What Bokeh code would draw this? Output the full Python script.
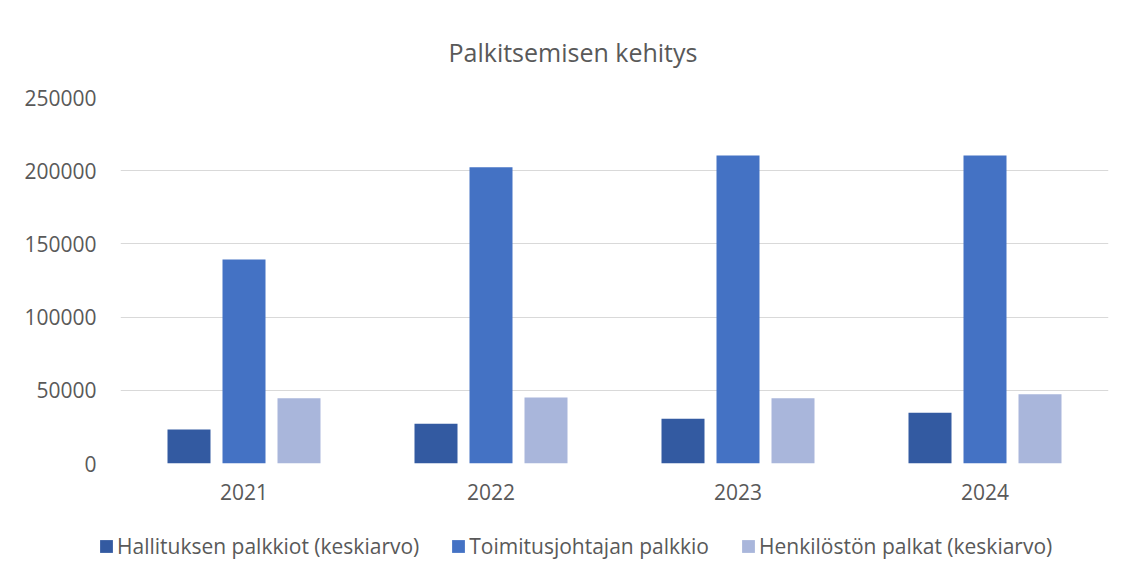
from bokeh.plotting import figure
from bokeh.layouts import column, row
from bokeh.models import (ColumnDataSource, FactorRange, Range1d, Legend, LegendItem,
                          FixedTicker, NumeralTickFormatter)
from bokeh.transform import dodge
from bokeh.embed import file_html
from bokeh.resources import INLINE

years = ["2021", "2022", "2023", "2024"]
hallitus = [23200, 27100, 30500, 34600]
toimitusjohtaja = [139300, 202400, 210400, 210400]
henkilosto = [44600, 45000, 44600, 47300]

series_names = ["Hallituksen palkkiot (keskiarvo)", "Toimitusjohtajan palkkio",
                "Henkilöstön palkat (keskiarvo)"]
series_colors = ["#335AA1", "#4472C4", "#A9B6DB"]
y_ticks = [0, 50000, 100000, 150000, 200000, 250000]

FONT = "Open Sans"
TXT = "#595959"
W = 1122
H_MAIN = 515
H_LEG = 57

src = ColumnDataSource(dict(year=years, hall=hallitus, toim=toimitusjohtaja, henk=henkilosto))

p = figure(width=W, height=H_MAIN, x_range=FactorRange(*years), y_range=Range1d(0, 250000),
           output_backend="svg", toolbar_location=None,
           min_border_left=120, min_border_right=14, min_border_top=97, min_border_bottom=52)
p.outline_line_color = None
p.background_fill_color = "white"
p.border_fill_color = "white"

p.title.text = "Palkitsemisen kehitys"
p.title.align = "left"
p.title.offset = 328
p.title.vertical_align = "top"
p.title.standoff = 54
p.title.text_font = FONT
p.title.text_font_size = "25px"
p.title.text_font_style = "normal"
p.title.text_color = TXT

step = 55 / 247
bw = 43 / 247
for col, off, color in zip(["hall", "toim", "henk"], [-step, 0, step], series_colors):
    p.vbar(x=dodge("year", off, range=p.x_range), top=col, width=bw, source=src,
           fill_color=color, line_color=None)

p.xgrid.grid_line_color = None
p.ygrid.grid_line_color = "#d9d9d9"
p.ygrid.grid_line_width = 1.2
p.yaxis.ticker = FixedTicker(ticks=y_ticks)
p.yaxis.formatter = NumeralTickFormatter(format="0")
for ax in (p.xaxis, p.yaxis):
    ax.axis_line_color = None
    ax.major_tick_line_color = None
    ax.minor_tick_line_color = None
    ax.major_tick_out = 0
    ax.major_tick_in = 0
    ax.major_label_text_font = FONT
    ax.major_label_text_font_size = "21px"
    ax.major_label_text_color = TXT
p.yaxis.major_label_standoff = 24
p.xaxis.major_label_standoff = 20

# legend strip below the chart
lf = figure(width=W, height=H_LEG, x_range=Range1d(0, 1), y_range=Range1d(0, 1),
            x_axis_type=None, y_axis_type=None,
            output_backend="svg", toolbar_location=None,
            min_border_left=0, min_border_right=0, min_border_top=0, min_border_bottom=0)
lf.grid.visible = False
lf.outline_line_color = None
lf.background_fill_color = "white"
lf.border_fill_color = "white"
items = []
for name, color in zip(series_names, series_colors):
    r = lf.vbar(x=[-10], top=[-5], bottom=[-6], width=0.1, fill_color=color, line_color=None)
    items.append(LegendItem(label=name, renderers=[r]))
leg = Legend(items=items, location=(98, 12), orientation="horizontal",
             glyph_width=16, glyph_height=16, label_standoff=3, padding=0, margin=0,
             spacing=31, border_line_color=None, background_fill_alpha=0,
             label_text_font=FONT, label_text_font_size="21px", label_text_color=TXT)
lf.add_layout(leg, "center")

layout = column(p, row(lf, spacing=0), spacing=0)
open("out.html", "w").write(file_html(layout, INLINE))
